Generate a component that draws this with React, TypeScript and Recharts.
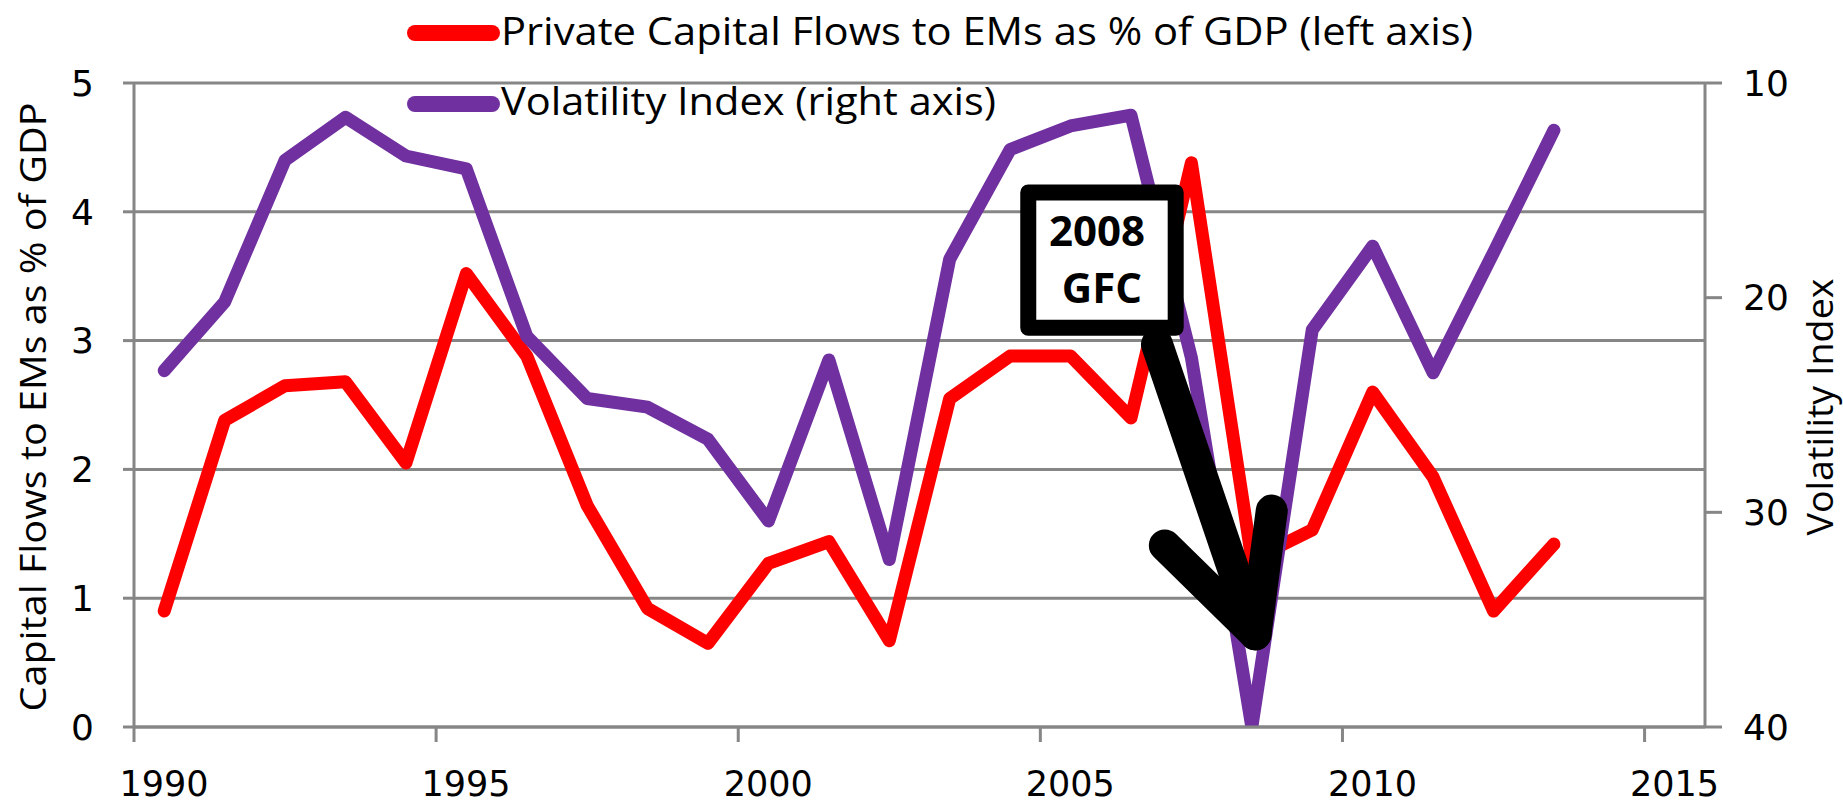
import React from 'react';
import {
  LineChart,
  Line,
  XAxis,
  YAxis,
  CartesianGrid,
  Legend,
  ReferenceArea,
  ReferenceLine,
} from 'recharts';

// ---------- data ----------
const years = [
  1990.5, 1991.5, 1992.5, 1993.5, 1994.5, 1995.5, 1996.5, 1997.5, 1998.5, 1999.5,
  2000.5, 2001.5, 2002.5, 2003.5, 2004.5, 2005.5, 2006.5, 2007.5, 2008.5, 2009.5,
  2010.5, 2011.5, 2012.5, 2013.5,
];
const capitalFlows = [
  0.9, 2.38, 2.65, 2.68, 2.05, 3.52, 2.88, 1.72, 0.92, 0.65,
  1.27, 1.44, 0.67, 2.55, 2.88, 2.88, 2.4, 4.38, 1.3, 1.53,
  2.6, 1.94, 0.9, 1.42,
];
const volatility = [
  23.4, 20.2, 13.6, 11.6, 13.4, 14.0, 21.8, 24.7, 25.1, 26.6,
  30.4, 22.9, 32.2, 18.2, 13.1, 12.0, 11.5, 22.8, 40.0, 21.5,
  17.6, 23.5, 17.9, 12.2,
];
const xTicks = [1990, 1995, 2000, 2005, 2010, 2015];
const leftTicks = [0, 1, 2, 3, 4, 5];
const rightTicks = [10, 20, 30, 40];
const flowsName = 'Private Capital Flows to EMs as % of GDP (left axis)';
const volName = 'Volatility Index (right axis)';
const leftTitle = 'Capital Flows to EMs as % of GDP';
const rightTitle = 'Volatility Index';
const annotationLines = ['2008', 'GFC'];
// annotation box (data coords: x = year, y = left axis)
const gfcBox = { x1: 2004.8, x2: 2007.24, y1: 3.1, y2: 4.15 };
const gfcArrow = [
  [{ x: 2006.93, y: 2.97 }, { x: 2008.56, y: 0.72 }],
  [{ x: 2007.06, y: 1.41 }, { x: 2008.56, y: 0.72 }],
  [{ x: 2008.83, y: 1.68 }, { x: 2008.56, y: 0.72 }],
];

const data = years.map((x, i) => ({ x, flows: capitalFlows[i], vol: volatility[i] }));

// ---------- styles ----------
const W = 1843;
const H = 801;
const GRID = '#868686';
const RED = '#FF0000';
const PURPLE = '#7030A0';
const TICK_FONT = 'DejaVu Sans';
const TEXT_FONT = '"Open Sans", sans-serif';
const legendTextLengths = [972, 495];

const axisLineStyle = { stroke: GRID, strokeWidth: 3 };

const renderXTick = (props: any) => {
  const { x, y, payload } = props;
  return (
    <text
      x={x + 30}
      y={y}
      dy="0.71em"
      textAnchor="middle"
      fontFamily={TICK_FONT}
      fontSize={35}
      fill="#000"
    >
      {payload.value}
    </text>
  );
};

const renderLegend = (props: any) => {
  const payload = props.payload || [];
  return (
    <svg width={W} height={130} style={{ display: 'block', overflow: 'visible' }}>
      {payload.map((entry: any, i: number) => (
        <g key={i}>
          <line
            x1={415}
            x2={492}
            y1={33 + i * 71}
            y2={33 + i * 71}
            stroke={entry.color}
            strokeWidth={16}
            strokeLinecap="round"
          />
          <text
            x={501}
            y={45 + i * 70}
            fontFamily={TEXT_FONT}
            fontSize={39}
            fill="#000"
            textLength={legendTextLengths[i]}
            lengthAdjust="spacingAndGlyphs"
          >
            {entry.value}
          </text>
        </g>
      ))}
    </svg>
  );
};

const makeTitle = (text: string, offsetX: number, len: number) => (props: any) => {
  const vb = props.viewBox || { x: 0, y: 0, width: 0, height: 0 };
  const cx = vb.x + offsetX;
  const cy = vb.y + vb.height / 2 + 2;
  return (
    <text
      x={cx}
      y={cy}
      transform={`rotate(-90 ${cx} ${cy})`}
      textAnchor="middle"
      dominantBaseline="central"
      fontFamily={TEXT_FONT}
      fontSize={37}
      fill="#000"
      textLength={len}
      lengthAdjust="spacingAndGlyphs"
    >
      {text}
    </text>
  );
};

const renderBoxLabel = (props: any) => {
  const vb = props.viewBox || { x: 0, y: 0, width: 0, height: 0 };
  const cx = vb.x + vb.width / 2;
  return (
    <g>
      <text
        x={cx - 5}
        y={vb.y + 54}
        textAnchor="middle"
        fontFamily={TEXT_FONT}
        fontWeight={700}
        fontSize={42}
        fill="#000"
      >
        {annotationLines[0]}
      </text>
      <text
        x={cx}
        y={vb.y + 111}
        textAnchor="middle"
        fontFamily={TEXT_FONT}
        fontWeight={700}
        fontSize={42}
        fill="#000"
      >
        {annotationLines[1]}
      </text>
    </g>
  );
};

export default function App() {
  return (
    <div style={{ position: 'absolute', left: 0, top: 0, width: W, height: H, background: '#fff' }}>
      <LineChart
        width={W}
        height={H}
        data={data}
        margin={{ top: 83, right: 0, bottom: 0, left: 0 }}
      >
        <CartesianGrid
          yAxisId="left"
          vertical={false}
          stroke={GRID}
          strokeWidth={3}
        />
        <XAxis
          dataKey="x"
          type="number"
          domain={[1990, 2016]}
          ticks={xTicks}
          interval={0}
          height={74}
          tickSize={15}
          tickMargin={29}
          axisLine={axisLineStyle}
          tickLine={axisLineStyle}
          tick={renderXTick}
        />
        <YAxis
          yAxisId="left"
          orientation="left"
          width={134}
          domain={[0, 5]}
          ticks={leftTicks}
          interval={0}
          tickSize={11}
          tickMargin={29}
          axisLine={axisLineStyle}
          tickLine={axisLineStyle}
          tick={{ fontFamily: TICK_FONT, fontSize: 36, fill: '#000' }}
          label={{ content: makeTitle(leftTitle, 31, 609) }}
        />
        <YAxis
          yAxisId="right"
          orientation="right"
          width={138}
          domain={[10, 40]}
          reversed
          allowDataOverflow
          ticks={rightTicks}
          interval={0}
          tickSize={17}
          tickMargin={21}
          axisLine={axisLineStyle}
          tickLine={axisLineStyle}
          tick={{ fontFamily: TICK_FONT, fontSize: 36, fill: '#000' }}
          label={{ content: makeTitle(rightTitle, 113, 257) }}
        />
        <Legend
          layout="horizontal"
          verticalAlign="middle"
          align="center"
          wrapperStyle={{ top: 0, left: 0, width: W, height: 130 }}
          content={renderLegend}
        />
        <Line
          yAxisId="left"
          dataKey="flows"
          name={flowsName}
          type="linear"
          stroke={RED}
          strokeWidth={13}
          strokeLinejoin="round"
          strokeLinecap="round"
          dot={false}
          activeDot={false}
          isAnimationActive={false}
        />
        <Line
          yAxisId="right"
          dataKey="vol"
          name={volName}
          type="linear"
          stroke={PURPLE}
          strokeWidth={13}
          strokeLinejoin="round"
          strokeLinecap="round"
          dot={false}
          activeDot={false}
          isAnimationActive={false}
        />
        <ReferenceArea
          yAxisId="left"
          x1={gfcBox.x1}
          x2={gfcBox.x2}
          y1={gfcBox.y1}
          y2={gfcBox.y2}
          fill="#fff"
          fillOpacity={1}
          stroke="#000"
          strokeWidth={16}
          strokeLinejoin="round"
          ifOverflow="visible"
          zIndex={1500}
          label={{ content: renderBoxLabel }}
        />
        {gfcArrow.map((seg, i) => (
          <ReferenceLine
            key={i}
            yAxisId="left"
            segment={seg}
            stroke="#000"
            strokeWidth={32}
            strokeLinecap="round"
            ifOverflow="visible"
            zIndex={1600}
          />
        ))}
      </LineChart>
    </div>
  );
}
